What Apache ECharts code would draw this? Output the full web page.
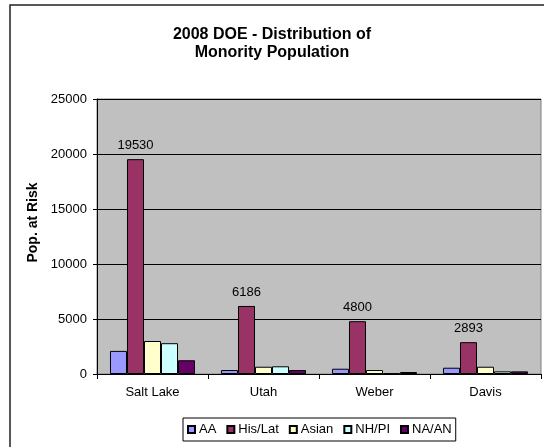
<!DOCTYPE html>
<html>
<head>
<meta charset="utf-8">
<script src="https://cdn.jsdelivr.net/npm/echarts@6/dist/echarts.min.js"></script>
<style>html,body{margin:0;padding:0;background:#fff}#c{width:544px;height:447px}</style>
</head>
<body>
<div id="c"></div>
<script>
var categories = ['Salt Lake', 'Utah', 'Weber', 'Davis'];
var seriesNames = ['AA', 'His/Lat', 'Asian', 'NH/PI', 'NA/AN'];
var aa = [2100, 360, 480, 570];
var hisLat = [19530, 6186, 4800, 2893];
var asian = [3000, 660, 360, 660];
var nhpi = [2800, 700, 60, 240];
var naan = [1250, 360, 180, 240];
var yTicks = [0, 5000, 10000, 15000, 20000, 25000];
var colors = ['#9999FF', '#993366', '#FFFFCC', '#CCFFFF', '#660066'];

var FONT = 'Liberation Sans, Arial, sans-serif';
var values = [aa, hisLat, asian, nhpi, naan];
var series = seriesNames.map(function (n, i) {
  return {
    name: n,
    type: 'bar',
    data: values[i],
    barGap: '0%',
    barCategoryGap: '23.4%',
    itemStyle: { color: colors[i], borderColor: '#000', borderWidth: 1 },
    label: i === 1 ? { show: true, position: 'top', distance: 7, color: '#000', fontSize: 13, fontFamily: FONT } : { show: false },
    emphasis: { disabled: true }
  };
});

var chart = echarts.init(document.getElementById('c'), null, { renderer: 'canvas' });
chart.setOption({
  animation: false,
  textStyle: { fontFamily: FONT },
  title: {
    text: '2008 DOE - Distribution of\nMonority Population',
    left: 'center',
    top: 21,
    textStyle: { fontSize: 16, fontWeight: 'bold', color: '#000', lineHeight: 18, fontFamily: FONT }
  },
  graphic: [{
    type: 'rect',
    shape: { x: 10, y: 5, width: 600, height: 600 },
    style: { fill: 'none', stroke: '#222', lineWidth: 1.5 },
    z: -1
  }],
  legend: {
    data: seriesNames,
    left: 183,
    top: 418,
    orient: 'horizontal',
    itemWidth: 7,
    itemHeight: 7,
    itemGap: 10,
    padding: [5, 4, 5, 4],
    backgroundColor: '#fff',
    borderColor: '#000',
    borderWidth: 1,
    borderRadius: 0,
    icon: 'rect',
    textStyle: { fontSize: 13, color: '#000', fontFamily: FONT, padding: [0, 0, 0, -1] },
    selectedMode: false
  },
  grid: {
    left: 97, right: 3, top: 99, bottom: 73,
    show: true, backgroundColor: '#C0C0C0', borderColor: '#808080', borderWidth: 1,
    containLabel: false
  },
  xAxis: {
    type: 'category',
    data: categories,
    axisLine: { lineStyle: { color: '#000', width: 1 } },
    axisTick: { show: true, length: 5, lineStyle: { color: '#000' } },
    axisLabel: { fontSize: 13, color: '#000', margin: 12, fontFamily: FONT }
  },
  yAxis: {
    type: 'value',
    min: yTicks[0],
    max: yTicks[yTicks.length - 1],
    interval: yTicks[1] - yTicks[0],
    name: 'Pop. at Risk',
    nameLocation: 'middle',
    nameRotate: 90,
    nameGap: 45,
    nameTextStyle: { fontSize: 14, fontWeight: 'bold', color: '#000', fontFamily: FONT, padding: [0, 0, 0, 28] },
    axisLine: { show: true, lineStyle: { color: '#000', width: 1 } },
    axisTick: { show: true, length: 4, lineStyle: { color: '#000' } },
    axisLabel: { fontSize: 13, color: '#000', margin: 10, fontFamily: FONT, formatter: function (v) { return String(v); } },
    splitLine: { show: true, lineStyle: { color: '#000', width: 1 } }
  },
  series: series
});
</script>
</body>
</html>
